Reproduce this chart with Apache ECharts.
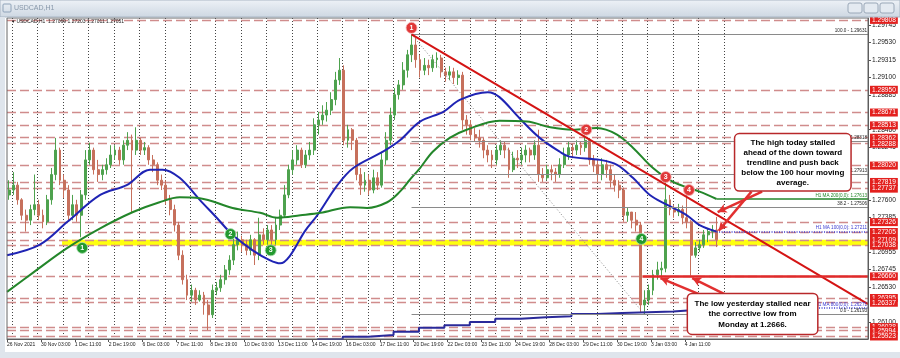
<!DOCTYPE html>
<html><head><meta charset="utf-8">
<script src="https://cdn.jsdelivr.net/npm/echarts@6/dist/echarts.min.js"></script>
<style>html,body{margin:0;padding:0;background:#fff}#c{width:900px;height:358px}</style>
</head><body><div id="c"></div>
<script>
// ---- tick labels ----
const timeLabels = ['26 Nov 2021','30 Nov 03:00','1 Dec 11:00','2 Dec 19:00','6 Dec 03:00','7 Dec 11:00','8 Dec 19:00','10 Dec 03:00','13 Dec 11:00','14 Dec 19:00','16 Dec 03:00','17 Dec 11:00','20 Dec 19:00','22 Dec 03:00','23 Dec 11:00','24 Dec 19:00','28 Dec 03:00','29 Dec 11:00','30 Dec 19:00','3 Jan 03:00','4 Jan 11:00'];
const priceTicks = [1.29745,1.29530,1.29315,1.29100,1.28885,1.28460,1.28245,1.27600,1.27385,1.26955,1.26745,1.26530,1.26100];
// ---- horizontal price levels (red dashed) ----
const levels = [1.29808,1.28950,1.28671,1.28513,1.28362,1.28288,1.28020,1.27819,1.27737,1.27326,1.27205,1.27109,1.27038,1.26660,1.26395,1.26337,1.26038,1.25994,1.25923];
// ---- 4-hour OHLC [open, close, low, high], one per 4 hourly bars ----
const ohlc = [
[1.2766,1.2772,1.2760,1.2784],[1.2772,1.2778,1.2766,1.2794],[1.2778,1.2760,1.2754,1.2782],[1.2760,1.2741,1.2735,1.2762],
[1.2741,1.2735,1.2721,1.2748],[1.2735,1.2748,1.2729,1.2754],[1.2748,1.2754,1.2741,1.2791],[1.2754,1.2741,1.2735,1.2760],
[1.2741,1.2733,1.2725,1.2748],[1.2733,1.2760,1.2729,1.2766],[1.2760,1.2791,1.2754,1.2799],[1.2791,1.2821,1.2784,1.2836],
[1.2821,1.2784,1.2778,1.2824],[1.2784,1.2772,1.2762,1.2791],[1.2772,1.2741,1.2735,1.2778],[1.2741,1.2754,1.2735,1.2766],
[1.2754,1.2741,1.2733,1.2760],[1.2741,1.2766,1.2714,1.2772],[1.2766,1.2809,1.2760,1.2821],[1.2809,1.2821,1.2803,1.2830],
[1.2821,1.2797,1.2791,1.2824],[1.2797,1.2791,1.2782,1.2809],[1.2791,1.2797,1.2784,1.2803],[1.2797,1.2803,1.2791,1.2811],
[1.2803,1.2815,1.2799,1.2827],[1.2815,1.2821,1.2809,1.2827],[1.2821,1.2809,1.2803,1.2825],[1.2809,1.2827,1.2803,1.2833],
[1.2827,1.2833,1.2821,1.2843],[1.2833,1.2821,1.2745,1.2840],[1.2821,1.2833,1.2815,1.2849],[1.2833,1.2821,1.2815,1.2836],
[1.2821,1.2824,1.2815,1.2831],[1.2824,1.2809,1.2803,1.2827],[1.2809,1.2803,1.2794,1.2815],[1.2803,1.2784,1.2778,1.2806],
[1.2784,1.2778,1.2772,1.2791],[1.2778,1.2760,1.2754,1.2784],[1.2760,1.2748,1.2741,1.2766],[1.2748,1.2729,1.2721,1.2754],
[1.2729,1.2692,1.2686,1.2733],[1.2692,1.2662,1.2656,1.2698],[1.2662,1.2643,1.2637,1.2668],[1.2643,1.2649,1.2635,1.2656],
[1.2649,1.2637,1.2631,1.2652],[1.2637,1.2643,1.2635,1.2649],[1.2643,1.2631,1.2619,1.2647],[1.2631,1.2619,1.2600,1.2637],
[1.2619,1.2649,1.2615,1.2656],[1.2649,1.2652,1.2643,1.2659],[1.2652,1.2662,1.2647,1.2668],[1.2662,1.2674,1.2656,1.2680],
[1.2674,1.2686,1.2668,1.2692],[1.2686,1.2705,1.2680,1.2721],[1.2705,1.2711,1.2698,1.2721],[1.2711,1.2705,1.2696,1.2716],
[1.2705,1.2698,1.2692,1.2711],[1.2698,1.2711,1.2692,1.2717],[1.2711,1.2692,1.2680,1.2713],[1.2692,1.2717,1.2686,1.2738],
[1.2717,1.2711,1.2705,1.2725],[1.2711,1.2723,1.2705,1.2729],[1.2723,1.2711,1.2701,1.2729],[1.2711,1.2729,1.2705,1.2738],
[1.2729,1.2741,1.2723,1.2748],[1.2741,1.2766,1.2738,1.2778],[1.2766,1.2797,1.2762,1.2803],[1.2797,1.2809,1.2791,1.2821],
[1.2809,1.2821,1.2803,1.2827],[1.2821,1.2803,1.2799,1.2824],[1.2803,1.2815,1.2799,1.2821],[1.2815,1.2821,1.2809,1.2831],
[1.2821,1.2852,1.2815,1.2860],[1.2852,1.2858,1.2840,1.2868],[1.2858,1.2864,1.2852,1.2876],[1.2864,1.2870,1.2856,1.2880],
[1.2870,1.2883,1.2864,1.2892],[1.2883,1.2907,1.2876,1.2917],[1.2907,1.2919,1.2901,1.2934],[1.2919,1.2833,1.2827,1.2925],
[1.2833,1.2846,1.2824,1.2852],[1.2846,1.2833,1.2821,1.2848],[1.2833,1.2791,1.2784,1.2836],[1.2791,1.2778,1.2766,1.2799],
[1.2778,1.2784,1.2770,1.2794],[1.2784,1.2772,1.2766,1.2791],[1.2772,1.2787,1.2768,1.2797],[1.2787,1.2778,1.2772,1.2794],
[1.2778,1.2809,1.2775,1.2819],[1.2809,1.2833,1.2803,1.2843],[1.2833,1.2864,1.2827,1.2873],[1.2864,1.2889,1.2858,1.2897],
[1.2889,1.2901,1.2883,1.2907],[1.2901,1.2919,1.2895,1.2929],[1.2919,1.2938,1.2910,1.2944],[1.2938,1.2950,1.2929,1.2963],
[1.2950,1.2932,1.2922,1.2959],[1.2932,1.2919,1.2910,1.2938],[1.2919,1.2925,1.2913,1.2934],[1.2925,1.2922,1.2913,1.2932],
[1.2922,1.2932,1.2917,1.2938],[1.2932,1.2934,1.2922,1.2941],[1.2934,1.2917,1.2910,1.2938],[1.2917,1.2913,1.2905,1.2922],
[1.2913,1.2917,1.2907,1.2924],[1.2917,1.2910,1.2902,1.2922],[1.2910,1.2913,1.2901,1.2919],[1.2913,1.2858,1.2846,1.2917],
[1.2858,1.2852,1.2840,1.2864],[1.2852,1.2840,1.2833,1.2858],[1.2840,1.2836,1.2831,1.2848],[1.2836,1.2833,1.2824,1.2846],
[1.2833,1.2821,1.2811,1.2836],[1.2821,1.2815,1.2806,1.2827],[1.2815,1.2809,1.2799,1.2821],[1.2809,1.2821,1.2803,1.2827],
[1.2821,1.2827,1.2815,1.2833],[1.2827,1.2821,1.2811,1.2831],[1.2821,1.2797,1.2787,1.2824],[1.2797,1.2811,1.2794,1.2819],
[1.2811,1.2809,1.2799,1.2821],[1.2809,1.2815,1.2803,1.2824],[1.2815,1.2821,1.2806,1.2827],[1.2821,1.2815,1.2806,1.2824],
[1.2815,1.2827,1.2809,1.2833],[1.2827,1.2791,1.2782,1.2846],[1.2791,1.2787,1.2782,1.2799],[1.2787,1.2797,1.2784,1.2803],
[1.2797,1.2794,1.2784,1.2803],[1.2794,1.2791,1.2782,1.2799],[1.2791,1.2803,1.2787,1.2811],[1.2803,1.2815,1.2799,1.2824],
[1.2815,1.2824,1.2809,1.2831],[1.2824,1.2821,1.2811,1.2829],[1.2821,1.2827,1.2815,1.2833],[1.2827,1.2824,1.2815,1.2831],
[1.2824,1.2833,1.2819,1.2840],[1.2833,1.2809,1.2803,1.2836],[1.2809,1.2803,1.2794,1.2815],[1.2803,1.2791,1.2782,1.2809],
[1.2791,1.2803,1.2784,1.2811],[1.2803,1.2797,1.2787,1.2809],[1.2797,1.2784,1.2775,1.2803],[1.2784,1.2778,1.2770,1.2791],
[1.2778,1.2772,1.2762,1.2784],[1.2772,1.2741,1.2733,1.2775],[1.2741,1.2745,1.2733,1.2750],[1.2745,1.2735,1.2725,1.2745],
[1.2735,1.2729,1.2721,1.2745],[1.2729,1.2631,1.2622,1.2733],[1.2631,1.2637,1.2619,1.2649],[1.2637,1.2649,1.2631,1.2656],
[1.2649,1.2668,1.2643,1.2674],[1.2668,1.2674,1.2662,1.2684],[1.2674,1.2676,1.2665,1.2684],[1.2676,1.2760,1.2671,1.2787],
[1.2760,1.2748,1.2741,1.2766],[1.2748,1.2745,1.2738,1.2754],[1.2745,1.2748,1.2740,1.2755],[1.2748,1.2738,1.2730,1.2753],
[1.2738,1.2733,1.2725,1.2770],[1.2733,1.2692,1.2667,1.2735],[1.2692,1.2701,1.2689,1.2708],[1.2701,1.2705,1.2696,1.2711],
[1.2705,1.2717,1.2701,1.2723],[1.2717,1.2721,1.2708,1.2725],[1.2721,1.2723,1.2713,1.2729],[1.2723,1.2711,1.2702,1.2739]
];
// ---- moving averages [hourly bar index, price] ----
const ma100 = [[0,1.2692],[31,1.2705],[57,1.2733],[88,1.2766],[113,1.2778],[135,1.2797],[147,1.2797],[163,1.2787],[182,1.2760],[198,1.2738],[213,1.2717],[232,1.2698],[248,1.2686],[258,1.2682],[267,1.2691],[281,1.2721],[293,1.2741],[312,1.2778],[327,1.2799],[355,1.2819],[371,1.2833],[390,1.2856],[412,1.2868],[428,1.2883],[454,1.2892],[465,1.2886],[484,1.2860],[503,1.2836],[522,1.2819],[531,1.2813],[560,1.2809],[576,1.2803],[591,1.2787],[607,1.2766],[623,1.2754],[642,1.2741],[654,1.2729],[670,1.2721]];
const ma200 = [[0,1.2647],[25,1.2671],[57,1.2701],[88,1.2725],[119,1.2745],[144,1.2757],[163,1.2763],[182,1.2762],[213,1.2750],[239,1.2744],[255,1.2738],[277,1.2741],[296,1.2744],[324,1.2751],[340,1.2750],[359,1.2757],[371,1.2770],[380,1.2784],[390,1.2799],[402,1.2819],[418,1.2836],[434,1.2846],[465,1.2857],[491,1.2856],[513,1.2849],[534,1.2846],[557,1.2848],[576,1.2840],[591,1.2824],[610,1.2799],[629,1.2782],[654,1.2770],[670,1.2761]];
const maDaily = [[293,1.2589],[317,1.2592],[341,1.2594],[365,1.2598],[389,1.2603],[413,1.2606],[437,1.2610],[461,1.2614],[485,1.2616],[509,1.2617],[533,1.2620],[557,1.2621],[581,1.2622],[605,1.2623],[629,1.2625],[653,1.2627],[670,1.2627]];
// ---- fibonacci ----
const fibLevels = [[100.0,1.29631],[61.8,1.28318],[50.0,1.27913],[38.2,1.27506],[0.0,1.26193]];
const noteHigh = ['The high today stalled','ahead of the down toward','trendline and push back','below the 100 hour moving','average.'];
const noteLow = ['The low yesterday stalled near','the corrective low from','Monday at 1.2666.'];
const redMarks = [['1',382,1.2971],['2',547,1.2846],['3',622,1.2788],['4',644,1.2772]];
const greenMarks = [['1',71,1.2701],['2',211,1.2718],['3',249,1.2698],['4',599,1.2712]];

const N = 814, LAST = 813;
const cats = Array.from({length: N}, (_, i) => String(i));
const candles = ohlc.map((d, k) => [2 + 4 * k, d[0], d[1], d[2], d[3]]);
const F = 'Liberation Sans, Arial, sans-serif';
const tiny = {fontSize: 4.6, fontFamily: F};

const chart = echarts.init(document.getElementById('c'));
const levelLines = levels.map(v => [{coord: [0, v], label: {formatter: v.toFixed(5)}}, {coord: [LAST, v]}]);
const fibLines = fibLevels.map(([r, v]) => [
  {coord: [382, v], lineStyle: {color: '#8a8a8a', width: 1, type: 'solid'},
    label: {show: true, position: 'insideEndTop', distance: 1, formatter: r.toFixed(1) + ' - ' + v.toFixed(5), color: '#222', ...tiny}},
  {coord: [LAST, v]}]);
const arrow = (a, b) => [{coord: a, symbol: 'none'}, {coord: b, symbol: 'arrow', symbolSize: [7, 9]}];

const option = {
  animation: false,
  backgroundColor: '#fff',
  grid: {left: 7, right: 32, top: 18, bottom: 19, show: false},
  xAxis: {
    type: 'category', data: cats, boundaryGap: false,
    axisLine: {show: true, lineStyle: {color: '#555'}},
    axisTick: {show: true, length: 3, interval: i => i % 32 === 0 && i / 32 < timeLabels.length, lineStyle: {color: '#555'}},
    axisLabel: {interval: i => i % 32 === 0 && i / 32 < timeLabels.length, formatter: (v, i) => timeLabels[i / 32] || '',
      align: 'left', fontSize: 5, color: '#222', margin: 3, fontFamily: F},
    splitLine: {show: true, interval: i => i >= 5 && i <= 677 && (i - 5) % 24 === 0, lineStyle: {color: '#444', type: [1, 2], width: 1}}
  },
  yAxis: {
    type: 'value', position: 'right', min: 1.25892, max: 1.29831, scale: true,
    axisLine: {show: true, lineStyle: {color: '#555'}},
    axisTick: {show: true, length: 3, customValues: priceTicks, lineStyle: {color: '#555'}},
    axisLabel: {customValues: priceTicks, formatter: v => v.toFixed(5), fontSize: 6.6, color: '#222', margin: 4, fontFamily: F},
    splitLine: {show: false}
  },
  series: [
    {type: 'line', name: 'levels', data: [], z: 1,
      markArea: {silent: true, z: 1, itemStyle: {color: '#ffff00', opacity: 0.95}, data: [[{coord: [52, 1.27109]}, {coord: [LAST, 1.27038]}]]},
      markLine: {silent: true, z: 2, symbol: ['none', 'none'], lineStyle: {color: '#d08c8c', type: [9, 4], width: 1.3},
        label: {show: true, position: 'end', distance: 2, backgroundColor: '#e3201e', color: '#fff', fontSize: 6.6, padding: [1, 2, 0, 2], fontFamily: F},
        data: levelLines}},
    {type: 'candlestick', name: 'USDCAD', data: candles, encode: {x: 0, y: [1, 2, 3, 4]}, barWidth: 2.4, z: 3,
      itemStyle: {color: '#4ea24e', color0: '#c6705c', borderColor: '#4ea24e', borderColor0: '#c6705c', borderWidth: 1}},
    {type: 'line', name: 'MA100', data: ma100, smooth: 0.35, showSymbol: false, z: 4, lineStyle: {color: '#1f24b4', width: 2}},
    {type: 'line', name: 'MA200', data: ma200, smooth: 0.35, showSymbol: false, z: 4, lineStyle: {color: '#23862a', width: 2}},
    {type: 'line', name: 'MAD', data: maDaily, step: 'end', showSymbol: false, z: 4, lineStyle: {color: '#2a2a9a', width: 2}},
    {type: 'line', name: 'objects', data: [], z: 6,
      markLine: {silent: true, z: 6, symbol: ['none', 'none'], label: {show: false},
        data: [
          ...fibLines,
          [{coord: [382, 1.29631], lineStyle: {color: '#888', width: 1, type: [1, 2]}}, {coord: [602, 1.26193]}],
          [{coord: [382, 1.2963], lineStyle: {color: '#d41414', width: 2, type: 'solid'}}, {coord: [LAST, 1.2632]}],
          [{coord: [600, 1.2666], lineStyle: {color: '#e02a2a', width: 2.5, type: 'solid'}}, {coord: [LAST, 1.2666]}],
          [{coord: [670, 1.27613], lineStyle: {color: '#23862a', width: 1.5, type: 'solid'},
            label: {show: true, position: 'insideEndTop', distance: 1, formatter: 'H1 MA 200(0,0): 1.27613', color: '#23862a', ...tiny}}, {coord: [LAST, 1.27613]}],
          [{coord: [670, 1.2721], lineStyle: {color: '#3a3ad0', width: 1.5, type: [1, 1.5]},
            label: {show: true, position: 'insideEndTop', distance: 1, formatter: 'H1 MA 100(0,0): 1.27211', color: '#3a3ad0', ...tiny}}, {coord: [LAST, 1.2721]}],
          [{coord: [670, 1.2627], lineStyle: {color: '#3a3ad0', width: 1.5, type: [1, 1.5]},
            label: {show: true, position: 'insideEndTop', distance: 1, formatter: 'H1 MA 800(0,0): 1.26271', color: '#3a3ad0', ...tiny}}, {coord: [LAST, 1.2627]}]
        ]}},
    {type: 'line', name: 'notes', data: [], z: 8,
      markLine: {silent: true, z: 8, label: {show: false}, lineStyle: {color: '#e23030', width: 2.5, type: 'solid'},
        data: [arrow([713, 1.2770], [671, 1.2745]), arrow([703, 1.2770], [672, 1.2722]),
               arrow([654, 1.2644], [617, 1.2664]), arrow([678, 1.2644], [647, 1.2664])]},
      markPoint: {silent: true, z: 9,
        data: [
          ...redMarks.map(([t, i, v]) => ({coord: [i, v], symbol: 'circle', symbolSize: 11,
            itemStyle: {color: '#e03838', borderColor: '#f5b5b5', borderWidth: 0.8},
            label: {show: true, position: 'inside', formatter: t, color: '#fff', fontSize: 7, fontWeight: 'bold', fontFamily: F}})),
          ...greenMarks.map(([t, i, v]) => ({coord: [i, v], symbol: 'circle', symbolSize: 11,
            itemStyle: {color: '#23992f', borderColor: '#a8dcae', borderWidth: 0.8},
            label: {show: true, position: 'inside', formatter: t, color: '#fff', fontSize: 7, fontWeight: 'bold', fontFamily: F}})),
          {coord: [742, 1.2806], symbol: 'rect', symbolSize: 1, itemStyle: {color: 'rgba(0,0,0,0)'},
            label: {show: true, position: 'inside', formatter: noteHigh.join('\n'), backgroundColor: '#fff', borderColor: '#b8282a', borderWidth: 1.5,
              borderRadius: 4, padding: [3, 3], width: 109, align: 'center', lineHeight: 10, fontSize: 8, fontWeight: 'bold', color: '#000', fontFamily: F}},
          {coord: [704, 1.2620], symbol: 'rect', symbolSize: 1, itemStyle: {color: 'rgba(0,0,0,0)'},
            label: {show: true, position: 'inside', formatter: noteLow.join('\n'), backgroundColor: '#fff', borderColor: '#b8282a', borderWidth: 1.5,
              borderRadius: 4, padding: [4, 3], width: 123, align: 'center', lineHeight: 10.5, fontSize: 8, fontWeight: 'bold', color: '#000', fontFamily: F}}
        ]}}
  ],
  graphic: [
    {type: 'rect', shape: {x: 0, y: 0, width: 900, height: 17}, z: 100,
      style: {fill: new echarts.graphic.LinearGradient(0, 0, 0, 1, [{offset: 0, color: '#eef2f7'}, {offset: 1, color: '#cdd7e2'}]), stroke: '#a9b6c4'}},
    {type: 'rect', shape: {x: 3, y: 4, width: 8, height: 8, r: 1}, z: 101, style: {fill: 'none', stroke: '#8ea2b8'}},
    {type: 'text', x: 14, y: 8, z: 101, style: {text: 'USDCAD,H1', fontSize: 7, fill: '#8898aa', fontFamily: F, verticalAlign: 'middle'}},
    {type: 'rect', shape: {x: 848, y: 3, width: 14, height: 10, r: 2}, z: 101, style: {fill: '#e4eaf1', stroke: '#9aa8b8'}},
    {type: 'rect', shape: {x: 864, y: 3, width: 14, height: 10, r: 2}, z: 101, style: {fill: '#e4eaf1', stroke: '#9aa8b8'}},
    {type: 'rect', shape: {x: 880, y: 3, width: 14, height: 10, r: 2}, z: 101, style: {fill: '#e4eaf1', stroke: '#9aa8b8'}},
    {type: 'rect', shape: {x: 0, y: 17, width: 5, height: 341}, z: 100, style: {fill: '#dfe5ec'}},
    {type: 'rect', shape: {x: 0, y: 352, width: 900, height: 6}, z: 100, style: {fill: '#dfe5ec'}},
    {type: 'rect', shape: {x: 7, y: 18, width: 861, height: 321}, z: 50, style: {fill: 'none', stroke: '#666', lineWidth: 1}},
    {type: 'text', x: 12, y: 22, z: 60, style: {text: '\u25BE USDCAD,H1  1.27069 1.27203 1.27011 1.27051', fontSize: 5, fill: '#222', fontFamily: F, verticalAlign: 'middle'}}
  ]
};
chart.setOption(option);
</script></body></html>
